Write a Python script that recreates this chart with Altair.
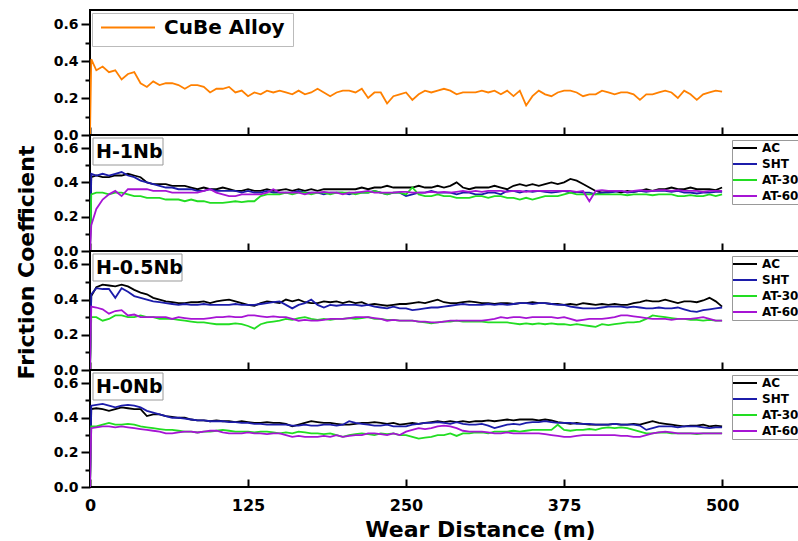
import altair as alt
import pandas as pd

# ---------------- data ----------------
distance = [0, 1] + list(range(5, 505, 5))

cube = [0.0, 0.41,
    0.35, 0.37, 0.34, 0.35, 0.30, 0.33, 0.34, 0.28, 0.26, 0.29,
    0.27, 0.28, 0.28, 0.27, 0.25, 0.27, 0.27, 0.26, 0.23, 0.25,
    0.25, 0.26, 0.23, 0.24, 0.21, 0.23, 0.22, 0.24, 0.23, 0.24,
    0.23, 0.22, 0.24, 0.22, 0.23, 0.25, 0.23, 0.21, 0.23, 0.24,
    0.24, 0.23, 0.25, 0.20, 0.23, 0.23, 0.17, 0.21, 0.22, 0.23,
    0.19, 0.22, 0.24, 0.23, 0.24, 0.25, 0.24, 0.22, 0.23, 0.23,
    0.23, 0.24, 0.23, 0.24, 0.22, 0.24, 0.21, 0.24, 0.16, 0.21,
    0.24, 0.22, 0.21, 0.23, 0.24, 0.24, 0.23, 0.21, 0.22, 0.22,
    0.24, 0.23, 0.22, 0.23, 0.23, 0.22, 0.19, 0.22, 0.22, 0.23,
    0.24, 0.23, 0.20, 0.24, 0.22, 0.19, 0.22, 0.23, 0.24, 0.235]

h1_ac = [0.0, 0.43,
    0.44, 0.43, 0.43, 0.44, 0.44, 0.45, 0.44, 0.43, 0.40, 0.39,
    0.39, 0.39, 0.38, 0.38, 0.38, 0.37, 0.36, 0.37, 0.36, 0.36,
    0.37, 0.36, 0.35, 0.35, 0.36, 0.35, 0.35, 0.36, 0.35, 0.355,
    0.36, 0.35, 0.36, 0.35, 0.36, 0.35, 0.36, 0.36, 0.36, 0.36,
    0.36, 0.36, 0.37, 0.36, 0.37, 0.37, 0.38, 0.37, 0.37, 0.37,
    0.37, 0.38, 0.37, 0.37, 0.38, 0.37, 0.38, 0.40, 0.37, 0.36,
    0.37, 0.37, 0.37, 0.38, 0.37, 0.36, 0.38, 0.39, 0.38, 0.39,
    0.38, 0.39, 0.40, 0.39, 0.40, 0.42, 0.41, 0.39, 0.37, 0.35,
    0.34, 0.345, 0.35, 0.34, 0.35, 0.345, 0.35, 0.36, 0.35, 0.36,
    0.36, 0.37, 0.36, 0.36, 0.37, 0.36, 0.36, 0.36, 0.355, 0.37]
h1_sht = [0.0, 0.45,
    0.44, 0.45, 0.44, 0.45, 0.46, 0.44, 0.43, 0.41, 0.40, 0.39,
    0.38, 0.37, 0.37, 0.36, 0.36, 0.36, 0.35, 0.35, 0.36, 0.35,
    0.35, 0.35, 0.35, 0.34, 0.35, 0.34, 0.34, 0.35, 0.34, 0.34,
    0.34, 0.34, 0.35, 0.34, 0.34, 0.34, 0.33, 0.34, 0.34, 0.34,
    0.33, 0.34, 0.34, 0.34, 0.35, 0.34, 0.33, 0.34, 0.34, 0.32,
    0.33, 0.34, 0.34, 0.35, 0.34, 0.34, 0.34, 0.33, 0.34, 0.34,
    0.33, 0.33, 0.34, 0.34, 0.33, 0.35, 0.35, 0.34, 0.35, 0.345,
    0.35, 0.345, 0.34, 0.345, 0.35, 0.34, 0.345, 0.34, 0.34, 0.33,
    0.34, 0.34, 0.345, 0.35, 0.34, 0.345, 0.35, 0.345, 0.35, 0.35,
    0.35, 0.345, 0.35, 0.34, 0.34, 0.335, 0.34, 0.34, 0.345, 0.345]
h1_at30 = [0.0, 0.33,
    0.34, 0.34, 0.33, 0.34, 0.34, 0.33, 0.32, 0.32, 0.31, 0.31,
    0.31, 0.30, 0.30, 0.30, 0.29, 0.30, 0.29, 0.29, 0.28, 0.28,
    0.28, 0.285, 0.29, 0.285, 0.29, 0.29, 0.32, 0.33, 0.33, 0.33,
    0.34, 0.33, 0.34, 0.34, 0.33, 0.34, 0.34, 0.33, 0.34, 0.34,
    0.34, 0.33, 0.34, 0.34, 0.35, 0.34, 0.33, 0.34, 0.34, 0.33,
    0.37, 0.33, 0.32, 0.32, 0.33, 0.32, 0.32, 0.31, 0.31, 0.31,
    0.32, 0.32, 0.31, 0.32, 0.32, 0.31, 0.31, 0.30, 0.31, 0.30,
    0.31, 0.32, 0.32, 0.32, 0.33, 0.34, 0.33, 0.33, 0.33, 0.33,
    0.33, 0.33, 0.33, 0.33, 0.325, 0.33, 0.33, 0.33, 0.325, 0.33,
    0.33, 0.33, 0.32, 0.32, 0.325, 0.32, 0.32, 0.33, 0.32, 0.33]
h1_at60 = [0.0, 0.15,
    0.245, 0.30, 0.33, 0.35, 0.32, 0.36, 0.36, 0.36, 0.36, 0.35,
    0.35, 0.35, 0.34, 0.34, 0.34, 0.34, 0.34, 0.35, 0.36, 0.34,
    0.33, 0.32, 0.32, 0.33, 0.33, 0.33, 0.33, 0.34, 0.36, 0.34,
    0.34, 0.34, 0.34, 0.33, 0.34, 0.34, 0.345, 0.34, 0.34, 0.33,
    0.34, 0.34, 0.345, 0.35, 0.34, 0.34, 0.34, 0.34, 0.345, 0.345,
    0.34, 0.34, 0.34, 0.345, 0.34, 0.345, 0.34, 0.345, 0.35, 0.345,
    0.35, 0.345, 0.35, 0.35, 0.35, 0.345, 0.35, 0.35, 0.345, 0.35,
    0.35, 0.35, 0.35, 0.35, 0.35, 0.35, 0.345, 0.35, 0.29, 0.35,
    0.355, 0.35, 0.35, 0.35, 0.345, 0.35, 0.355, 0.35, 0.35, 0.355,
    0.355, 0.35, 0.355, 0.35, 0.35, 0.35, 0.345, 0.35, 0.35, 0.35]

h05_ac = [0.0, 0.42,
    0.47, 0.485, 0.48, 0.475, 0.485, 0.475, 0.455, 0.44, 0.43, 0.41,
    0.40, 0.39, 0.385, 0.38, 0.38, 0.385, 0.385, 0.39, 0.38, 0.39,
    0.395, 0.40, 0.39, 0.38, 0.37, 0.365, 0.38, 0.39, 0.385, 0.38,
    0.40, 0.39, 0.40, 0.385, 0.38, 0.38, 0.39, 0.385, 0.39, 0.38,
    0.39, 0.38, 0.385, 0.37, 0.375, 0.37, 0.365, 0.37, 0.375, 0.375,
    0.38, 0.385, 0.38, 0.39, 0.40, 0.385, 0.38, 0.38, 0.385, 0.39,
    0.385, 0.38, 0.38, 0.375, 0.38, 0.38, 0.375, 0.38, 0.38, 0.385,
    0.38, 0.38, 0.375, 0.375, 0.37, 0.375, 0.37, 0.38, 0.375, 0.37,
    0.375, 0.37, 0.375, 0.37, 0.37, 0.38, 0.385, 0.395, 0.39, 0.39,
    0.40, 0.39, 0.38, 0.39, 0.39, 0.385, 0.395, 0.41, 0.39, 0.36]
h05_sht = [0.0, 0.43,
    0.465, 0.46, 0.46, 0.41, 0.465, 0.445, 0.42, 0.41, 0.40, 0.39,
    0.385, 0.38, 0.375, 0.37, 0.375, 0.37, 0.37, 0.375, 0.37, 0.37,
    0.37, 0.37, 0.375, 0.37, 0.37, 0.37, 0.375, 0.38, 0.385, 0.39,
    0.37, 0.35, 0.37, 0.38, 0.40, 0.37, 0.355, 0.37, 0.365, 0.37,
    0.37, 0.37, 0.365, 0.37, 0.36, 0.355, 0.35, 0.36, 0.35, 0.35,
    0.34, 0.345, 0.35, 0.355, 0.355, 0.36, 0.365, 0.37, 0.375, 0.37,
    0.37, 0.37, 0.375, 0.37, 0.375, 0.37, 0.375, 0.38, 0.38, 0.375,
    0.38, 0.38, 0.375, 0.37, 0.37, 0.36, 0.355, 0.35, 0.35, 0.35,
    0.355, 0.36, 0.36, 0.36, 0.355, 0.36, 0.355, 0.35, 0.35, 0.355,
    0.35, 0.35, 0.355, 0.345, 0.335, 0.33, 0.34, 0.345, 0.35, 0.355]
h05_at30 = [0.0, 0.30,
    0.30, 0.28, 0.29, 0.31, 0.31, 0.30, 0.30, 0.31, 0.30, 0.30,
    0.29, 0.29, 0.29, 0.285, 0.28, 0.275, 0.27, 0.27, 0.265, 0.26,
    0.26, 0.26, 0.265, 0.26, 0.25, 0.235, 0.26, 0.27, 0.275, 0.28,
    0.29, 0.285, 0.295, 0.30, 0.29, 0.285, 0.29, 0.285, 0.29, 0.29,
    0.295, 0.29, 0.295, 0.30, 0.29, 0.29, 0.285, 0.285, 0.28, 0.28,
    0.28, 0.275, 0.27, 0.265, 0.27, 0.275, 0.275, 0.28, 0.275, 0.275,
    0.275, 0.275, 0.27, 0.27, 0.27, 0.27, 0.265, 0.26, 0.265, 0.26,
    0.265, 0.26, 0.265, 0.26, 0.26, 0.255, 0.26, 0.255, 0.25, 0.245,
    0.26, 0.255, 0.26, 0.265, 0.27, 0.27, 0.275, 0.29, 0.31, 0.305,
    0.30, 0.295, 0.29, 0.29, 0.285, 0.285, 0.28, 0.285, 0.28, 0.28]
h05_at60 = [0.0, 0.36,
    0.355, 0.345, 0.32, 0.335, 0.34, 0.31, 0.315, 0.30, 0.30, 0.30,
    0.30, 0.30, 0.29, 0.30, 0.295, 0.29, 0.29, 0.29, 0.295, 0.30,
    0.30, 0.305, 0.30, 0.30, 0.31, 0.31, 0.305, 0.30, 0.305, 0.30,
    0.30, 0.29, 0.28, 0.285, 0.28, 0.28, 0.285, 0.29, 0.29, 0.29,
    0.295, 0.30, 0.30, 0.30, 0.295, 0.29, 0.28, 0.285, 0.28, 0.28,
    0.28, 0.275, 0.275, 0.27, 0.27, 0.275, 0.28, 0.28, 0.28, 0.28,
    0.28, 0.28, 0.285, 0.29, 0.30, 0.295, 0.30, 0.30, 0.295, 0.30,
    0.30, 0.30, 0.30, 0.295, 0.30, 0.29, 0.28, 0.285, 0.29, 0.29,
    0.29, 0.295, 0.30, 0.31, 0.31, 0.305, 0.30, 0.295, 0.29, 0.29,
    0.29, 0.285, 0.29, 0.29, 0.29, 0.295, 0.30, 0.29, 0.28, 0.28]

h0_ac = [0.0, 0.45,
    0.455, 0.45, 0.44, 0.45, 0.46, 0.455, 0.45, 0.45, 0.41, 0.42,
    0.42, 0.41, 0.405, 0.40, 0.40, 0.39, 0.385, 0.385, 0.38, 0.385,
    0.38, 0.38, 0.375, 0.38, 0.375, 0.37, 0.37, 0.375, 0.37, 0.37,
    0.365, 0.35, 0.36, 0.37, 0.38, 0.375, 0.37, 0.37, 0.365, 0.36,
    0.36, 0.365, 0.37, 0.37, 0.375, 0.37, 0.365, 0.37, 0.36, 0.365,
    0.37, 0.365, 0.37, 0.375, 0.38, 0.375, 0.38, 0.375, 0.38, 0.375,
    0.38, 0.38, 0.385, 0.38, 0.385, 0.39, 0.385, 0.39, 0.39, 0.39,
    0.385, 0.39, 0.385, 0.375, 0.37, 0.365, 0.37, 0.365, 0.36, 0.36,
    0.36, 0.36, 0.365, 0.36, 0.36, 0.365, 0.36, 0.37, 0.38, 0.37,
    0.365, 0.36, 0.355, 0.35, 0.355, 0.355, 0.36, 0.35, 0.355, 0.35]
h0_sht = [0.0, 0.47,
    0.475, 0.48, 0.47, 0.46, 0.47, 0.475, 0.47, 0.46, 0.44, 0.43,
    0.42, 0.41, 0.40, 0.40, 0.395, 0.39, 0.385, 0.385, 0.38, 0.38,
    0.38, 0.375, 0.375, 0.37, 0.37, 0.365, 0.365, 0.36, 0.36, 0.36,
    0.36, 0.355, 0.355, 0.36, 0.355, 0.355, 0.36, 0.36, 0.355, 0.36,
    0.38, 0.37, 0.365, 0.36, 0.355, 0.355, 0.36, 0.35, 0.35, 0.35,
    0.36, 0.365, 0.37, 0.37, 0.375, 0.37, 0.365, 0.375, 0.365, 0.36,
    0.36, 0.365, 0.355, 0.34, 0.35, 0.36, 0.365, 0.36, 0.37, 0.375,
    0.375, 0.38, 0.375, 0.37, 0.37, 0.37, 0.365, 0.365, 0.365, 0.36,
    0.36, 0.36, 0.365, 0.36, 0.36, 0.36, 0.355, 0.33, 0.34, 0.35,
    0.35, 0.35, 0.345, 0.35, 0.35, 0.35, 0.345, 0.34, 0.345, 0.345]
h0_at30 = [0.0, 0.35,
    0.35, 0.36, 0.37, 0.36, 0.36, 0.365, 0.36, 0.35, 0.345, 0.34,
    0.335, 0.33, 0.33, 0.325, 0.32, 0.32, 0.315, 0.32, 0.32, 0.325,
    0.33, 0.325, 0.32, 0.32, 0.32, 0.315, 0.32, 0.32, 0.315, 0.31,
    0.315, 0.31, 0.32, 0.315, 0.31, 0.31, 0.305, 0.31, 0.30, 0.29,
    0.30, 0.305, 0.31, 0.305, 0.30, 0.31, 0.305, 0.31, 0.30, 0.30,
    0.29, 0.28, 0.285, 0.29, 0.30, 0.30, 0.31, 0.295, 0.31, 0.31,
    0.315, 0.315, 0.31, 0.32, 0.32, 0.32, 0.325, 0.32, 0.325, 0.33,
    0.33, 0.33, 0.33, 0.36, 0.33, 0.325, 0.33, 0.33, 0.335, 0.33,
    0.34, 0.345, 0.34, 0.345, 0.34, 0.33, 0.32, 0.31, 0.31, 0.315,
    0.315, 0.31, 0.31, 0.31, 0.31, 0.305, 0.31, 0.31, 0.31, 0.31]
h0_at60 = [0.0, 0.34,
    0.345, 0.35, 0.35, 0.345, 0.35, 0.345, 0.34, 0.335, 0.33, 0.325,
    0.32, 0.31, 0.31, 0.315, 0.32, 0.32, 0.315, 0.32, 0.325, 0.325,
    0.315, 0.31, 0.31, 0.31, 0.315, 0.31, 0.31, 0.305, 0.31, 0.31,
    0.30, 0.29, 0.295, 0.29, 0.29, 0.29, 0.295, 0.29, 0.30, 0.29,
    0.295, 0.30, 0.30, 0.31, 0.31, 0.305, 0.30, 0.31, 0.30, 0.32,
    0.33, 0.34, 0.335, 0.34, 0.35, 0.355, 0.35, 0.34, 0.325, 0.32,
    0.32, 0.32, 0.315, 0.31, 0.31, 0.315, 0.31, 0.31, 0.31, 0.31,
    0.31, 0.305, 0.30, 0.295, 0.29, 0.29, 0.295, 0.30, 0.30, 0.30,
    0.30, 0.30, 0.30, 0.295, 0.295, 0.29, 0.29, 0.30, 0.31, 0.315,
    0.32, 0.315, 0.31, 0.31, 0.31, 0.31, 0.31, 0.31, 0.31, 0.31]

series_names = ["AC", "SHT", "AT-30", "AT-60"]
series_colors = ["#000000", "#1c1caa", "#22dd22", "#a614d4"]
alloy_name = ["CuBe Alloy"]
alloy_color = ["#ff8000"]
x_ticks = [0, 125, 250, 375, 500]
y_ticks = [0, 0.1, 0.2, 0.3, 0.4, 0.5, 0.6]

# ---------------- chart ----------------
FONT = "DejaVu Sans"
X_SCALE = alt.Scale(domain=[0, 617], nice=False, zero=False)
Y_SCALE = alt.Scale(domain=[0, 0.676], nice=False)
MAJOR = "round(datum.value*10) % 2 == 0"


def long_df(names, arrays):
    rows = []
    for n, arr in zip(names, arrays):
        for d, v in zip(distance, arr):
            rows.append({"d": d, "v": v, "s": n})
    return pd.DataFrame(rows)


def x_axis(bottom):
    kw = dict(values=x_ticks, offset=-8, tickSize=8, tickWidth=2, tickColor="black",
              domain=False, grid=False, labelFlush=False, labelOverlap=False)
    if bottom:
        return alt.Axis(title="Wear Distance (m)", labels=True, labelPadding=10,
                        labelFont=FONT, labelFontWeight="bold", labelFontSize=16,
                        labelColor="black", titleFont=FONT, titleFontWeight="bold",
                        titleFontSize=22, titleColor="black", titlePadding=6, **kw)
    return alt.Axis(title=None, labels=False, **kw)


def y_axis(show_title):
    kw = dict(values=y_ticks, labelExpr=f"{MAJOR} ? format(datum.value, '.1f') : ''",
              tickSize={"condition": {"test": MAJOR, "value": 9}, "value": 5},
              tickWidth=2, tickColor="black", domain=False, grid=False,
              labelFlush=False, labelOverlap=False, labelPadding=3,
              labelFont=FONT, labelFontWeight="bold", labelFontSize=14, labelColor="black")
    if show_title:
        return alt.Axis(title="Friction Coefficient", titleFont=FONT, titleFontWeight="bold",
                        titleFontSize=22, titleColor="black", titleY=11, titlePadding=15,
                        titleAlign="center", **kw)
    return alt.Axis(title=None, **kw)


def panel(df, domain, colors, legend, height, label=None, box_w=0,
          bottom=False, ytitle=False):
    lines = alt.Chart(df).mark_line(strokeWidth=1.8, clip=True).encode(
        x=alt.X("d:Q", scale=X_SCALE, axis=x_axis(bottom)),
        y=alt.Y("v:Q", scale=Y_SCALE, axis=y_axis(ytitle)),
        color=alt.Color("s:N", scale=alt.Scale(domain=domain, range=colors),
                        sort=domain, legend=legend),
    )
    layers = [lines]
    if label is not None:
        ldf = pd.DataFrame({"label": [label]})
        box = alt.Chart(ldf).mark_rect(fill="white", stroke="#999999", strokeWidth=1).encode(
            x=alt.value(3), x2=alt.value(3 + box_w), y=alt.value(3), y2=alt.value(30))
        txt = alt.Chart(ldf).mark_text(font=FONT, fontWeight="bold", fontSize=19,
                                       align="left", baseline="middle", color="black").encode(
            x=alt.value(6), y=alt.value(17), text="label:N")
        layers += [box, txt]
    return alt.layer(*layers).properties(width=780, height=height)


small_legend = alt.Legend(orient="none", legendX=642, legendY=5, title=None,
                          symbolType="stroke", symbolSize=576, symbolStrokeWidth=2,
                          clipHeight=16, labelFont=FONT, labelFontWeight="bold",
                          labelFontSize=12, labelColor="black", labelOffset=4,
                          padding=0, rowPadding=0, strokeColor="#999999", fillColor="white")
big_legend = alt.Legend(orient="none", legendX=2, legendY=3, title=None,
                        symbolType="stroke", symbolSize=2916, symbolStrokeWidth=2,
                        clipHeight=13, labelFont=FONT, labelFontWeight="bold",
                        labelFontSize=20, labelColor="black", labelOffset=8,
                        padding=8, strokeColor="#bbbbbb", fillColor="white")

p1 = panel(long_df(alloy_name, [cube]), alloy_name, alloy_color, big_legend, 125)
p2 = panel(long_df(series_names, [h1_ac, h1_sht, h1_at30, h1_at60]),
           series_names, series_colors, small_legend, 116, "H-1Nb", 70)
p3 = panel(long_df(series_names, [h05_ac, h05_sht, h05_at30, h05_at60]),
           series_names, series_colors, small_legend, 119, "H-0.5Nb", 89, ytitle=True)
p4 = panel(long_df(series_names, [h0_ac, h0_sht, h0_at30, h0_at60]),
           series_names, series_colors, small_legend, 117, "H-0Nb", 70, bottom=True)

# the source figure is cropped on its right side: a negative right padding
# reproduces that crop (plot area and legends run past the page edge)
chart = alt.vconcat(p1, p2, p3, p4, spacing=0, bounds="flush").resolve_scale(
    color="independent"
).properties(
    padding={"left": 14, "top": 9, "right": -73, "bottom": 0},
    background="white",
).configure_view(stroke="black", strokeWidth=2)

chart.save("out.html", embed_options={"renderer": "svg", "actions": False})
